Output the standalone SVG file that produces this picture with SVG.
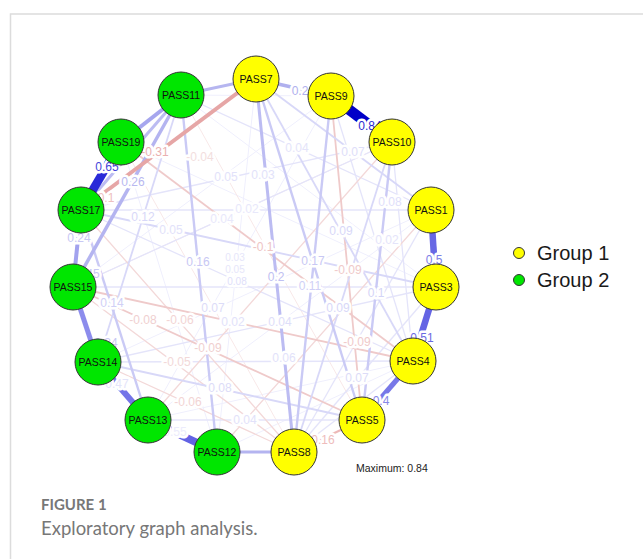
<svg xmlns="http://www.w3.org/2000/svg" width="643" height="559" viewBox="0 0 643 559">
<style>
.e{fill:none;stroke-linecap:butt}
.b0{stroke:#efeffd;stroke-width:1}
.b1{stroke:#e4e4fa;stroke-width:1.3}
.b2{stroke:#d8d8f8;stroke-width:1.8}
.b3{stroke:#cacaf5;stroke-width:2.4}
.b4{stroke:#bcbcf2;stroke-width:3}
.r0{stroke:#f8e8e8;stroke-width:1}
.r1{stroke:#f3d8d8;stroke-width:1.3}
.r2{stroke:#efcaca;stroke-width:1.8}
.lb{font-family:"Liberation Sans",Arial,sans-serif;font-size:12px;text-anchor:middle;paint-order:stroke;stroke:#fff;stroke-width:5px;stroke-linejoin:round}
.sm{font-size:10px}
.nd circle{stroke:#333;stroke-width:1}
.y{fill:#ffff00}
.g{fill:#00e600}
.nt{font-family:"Liberation Sans",Arial,sans-serif;font-size:10.5px;fill:#111;text-anchor:middle}
</style>
<rect width="643" height="559" fill="#fff"/>
<path d="M10.5 559V14H643" fill="none" stroke="#dcdcdc" stroke-width="1.5"/>
<g id="connectors">
<line class="e b0" x1="121" y1="142" x2="436" y2="287"/>
<line class="e b0" x1="121" y1="142" x2="217" y2="452"/>
<line class="e b0" x1="73" y1="287" x2="331" y2="96"/>
<line class="e b0" x1="148" y1="420" x2="431" y2="210"/>
<line class="e b0" x1="217" y1="452" x2="431" y2="210"/>
<line class="e b0" x1="217" y1="452" x2="413" y2="361"/>
<line class="e b0" x1="148" y1="420" x2="413" y2="361"/>
<line class="e b0" x1="181" y1="95" x2="331" y2="96"/>
<line class="e b0" x1="98" y1="362" x2="431" y2="210"/>
<line class="e b0" x1="331" y1="96" x2="148" y2="420"/>
<line class="e b0" x1="256" y1="79" x2="217" y2="452"/>
<line class="e b0" x1="181" y1="95" x2="436" y2="287"/>
<line class="e r0" x1="121" y1="142" x2="294" y2="452"/>
<line class="e r0" x1="181" y1="95" x2="362" y2="420"/>
<line class="e r0" x1="73" y1="287" x2="392" y2="142"/>
<line class="e b1" x1="81" y1="210" x2="431" y2="210"/>
<line class="e b1" x1="81" y1="210" x2="392" y2="142"/>
<line class="e b1" x1="181" y1="95" x2="431" y2="210"/>
<line class="e b1" x1="73" y1="287" x2="392" y2="142"/>
<line class="e b1" x1="392" y1="142" x2="413" y2="361"/>
<line class="e b1" x1="331" y1="96" x2="413" y2="361"/>
<line class="e b1" x1="98" y1="362" x2="436" y2="287"/>
<line class="e b1" x1="148" y1="420" x2="362" y2="420"/>
<line class="e b1" x1="73" y1="287" x2="436" y2="287"/>
<line class="e b1" x1="81" y1="210" x2="413" y2="361"/>
<line class="e b1" x1="431" y1="210" x2="294" y2="452"/>
<line class="e b1" x1="436" y1="287" x2="294" y2="452"/>
<line class="e b1" x1="413" y1="361" x2="294" y2="452"/>
<line class="e b1" x1="98" y1="362" x2="413" y2="361"/>
<line class="e r1" x1="81" y1="210" x2="294" y2="452"/>
<line class="e r1" x1="98" y1="362" x2="294" y2="452"/>
<line class="e r1" x1="73" y1="287" x2="294" y2="452"/>
<line class="e r1" x1="392" y1="142" x2="148" y2="420"/>
<line class="e r1" x1="431" y1="210" x2="217" y2="452"/>
<line class="e r2" x1="121" y1="142" x2="413" y2="361"/>
<line class="e r2" x1="331" y1="96" x2="362" y2="420"/>
<line class="e r2" x1="73" y1="287" x2="413" y2="361"/>
<line class="e r2" x1="73" y1="287" x2="362" y2="420"/>
<line class="e b2" x1="256" y1="79" x2="413" y2="361"/>
<line class="e b2" x1="392" y1="142" x2="294" y2="452"/>
<line class="e b2" x1="256" y1="79" x2="431" y2="210"/>
<line class="e b2" x1="98" y1="362" x2="362" y2="420"/>
<line class="e b2" x1="81" y1="210" x2="436" y2="287"/>
<line class="e b2" x1="181" y1="95" x2="98" y2="362"/>
<line class="e b3" x1="331" y1="96" x2="294" y2="452"/>
<line class="e b3" x1="392" y1="142" x2="362" y2="420"/>
<line class="e b3" x1="81" y1="210" x2="148" y2="420"/>
<line class="e b3" x1="256" y1="79" x2="362" y2="420"/>
<line class="e b3" x1="181" y1="95" x2="217" y2="452"/>
<line class="e b4" x1="256" y1="79" x2="294" y2="452"/>
<line class="e b4" x1="81" y1="210" x2="181" y2="95"/>
<line class="e" stroke="#b4b4f0" stroke-width="3.5" x1="73" y1="287" x2="181" y2="95"/>
<line class="e" stroke="#b4b4f0" stroke-width="3" x1="217" y1="452" x2="294" y2="452"/>
<line class="e" stroke="#b6b6f0" stroke-width="3" x1="181" y1="95" x2="256" y2="79"/>
<line class="e" stroke="#b0b0ee" stroke-width="3.5" x1="256" y1="79" x2="331" y2="96"/>
<line class="e" stroke="#ecb8b8" stroke-width="2" x1="294" y1="452" x2="362" y2="420"/>
<line class="e" stroke="#e6a6a6" stroke-width="4" x1="81" y1="210" x2="256" y2="79"/>
<line class="e" stroke="#a6a6ee" stroke-width="4" x1="121" y1="142" x2="181" y2="95"/>
<line class="e" stroke="#a2a2ee" stroke-width="4" x1="81" y1="210" x2="73" y2="287"/>
<line class="e" stroke="#8c8cec" stroke-width="5" x1="73" y1="287" x2="98" y2="362"/>
<line class="e" stroke="#7474e8" stroke-width="6" x1="98" y1="362" x2="148" y2="420"/>
<line class="e" stroke="#6262e4" stroke-width="7.5" x1="148" y1="420" x2="217" y2="452"/>
<line class="e" stroke="#7878e8" stroke-width="5" x1="413" y1="361" x2="362" y2="420"/>
<line class="e" stroke="#6464e4" stroke-width="6.5" x1="436" y1="287" x2="413" y2="361"/>
<line class="e" stroke="#6868e4" stroke-width="6.5" x1="431" y1="210" x2="436" y2="287"/>
<line class="e" stroke="#2a2ad8" stroke-width="8.5" x1="81" y1="210" x2="121" y2="142"/>
<line class="e" stroke="#0000c8" stroke-width="10.5" x1="331" y1="96" x2="392" y2="142"/>
</g>
<g id="edge-labels">
<text class="lb" x="370" y="130" fill="#2a2ad0">0.84</text>
<text class="lb" x="300" y="95" fill="#b0b0ee">0.2</text>
<text class="lb" x="155" y="156" fill="#eab0b0">-0.31</text>
<text class="lb" x="107" y="171" fill="#4646da">0.65</text>
<text class="lb" x="133" y="186" fill="#b8b8f0">0.26</text>
<text class="lb" x="200" y="161" fill="#f2dede">-0.04</text>
<text class="lb" x="297" y="152" fill="#e4e4fa">0.04</text>
<text class="lb" x="353" y="156" fill="#dedef9">0.07</text>
<text class="lb" x="226" y="181" fill="#e2e2fa">0.05</text>
<text class="lb" x="263" y="179" fill="#e2e2fa">0.03</text>
<text class="lb" x="247" y="213" fill="#e8e8fb">0.02</text>
<text class="lb" x="222" y="223" fill="#e8e8fb">0.04</text>
<text class="lb" x="390" y="206" fill="#e0e0fa">0.08</text>
<text class="lb" x="143" y="221" fill="#d8d8f8">0.12</text>
<text class="lb" x="171" y="234" fill="#e2e2fa">0.05</text>
<text class="lb" x="341" y="235" fill="#d8d8f8">0.09</text>
<text class="lb" x="79" y="242" fill="#c8c8f4">0.24</text>
<text class="lb" x="263" y="251" fill="#eec4c4">-0.1</text>
<text class="lb sm" x="235" y="261" fill="#e6e6fa">0.03</text>
<text class="lb sm" x="235" y="273" fill="#e6e6fa">0.05</text>
<text class="lb sm" x="237" y="285" fill="#e0e0fa">0.08</text>
<text class="lb" x="198" y="266" fill="#c8c8f4">0.16</text>
<text class="lb" x="276" y="281" fill="#c0c0f2">0.2</text>
<text class="lb" x="313" y="265" fill="#c8c8f4">0.17</text>
<text class="lb" x="348" y="274" fill="#f0caca">-0.09</text>
<text class="lb" x="310" y="290" fill="#d0d0f6">0.11</text>
<text class="lb" x="376" y="297" fill="#d4d4f7">0.1</text>
<text class="lb" x="387" y="244" fill="#e4e4fa">0.02</text>
<text class="lb" x="434" y="264" fill="#8080e6">0.5</text>
<text class="lb" x="112" y="307" fill="#d0d0f6">0.14</text>
<text class="lb" x="143" y="324" fill="#f0d0d0">-0.08</text>
<text class="lb" x="180" y="324" fill="#f2d4d4">-0.06</text>
<text class="lb" x="213" y="312" fill="#dcdcf8">0.07</text>
<text class="lb" x="233" y="326" fill="#e2e2fa">0.02</text>
<text class="lb" x="280" y="326" fill="#dedef9">0.04</text>
<text class="lb" x="338" y="312" fill="#d8d8f8">0.09</text>
<text class="lb" x="357" y="346" fill="#f0caca">-0.09</text>
<text class="lb" x="422" y="342" fill="#6a6ae2">0.51</text>
<text class="lb" x="208" y="352" fill="#f0d0d0">-0.09</text>
<text class="lb" x="177" y="366" fill="#f2d8d8">-0.05</text>
<text class="lb" x="284" y="362" fill="#e2e2fa">0.06</text>
<text class="lb" x="220" y="392" fill="#dcdcf8">0.08</text>
<text class="lb" x="357" y="382" fill="#dcdcf8">0.07</text>
<text class="lb" x="381" y="405" fill="#8888e8">0.4</text>
<text class="lb" x="188" y="406" fill="#f2d4d4">-0.06</text>
<text class="lb" x="245" y="424" fill="#e2e2fa">0.04</text>
<text class="lb" x="321" y="444" fill="#eebcbc">-0.16</text>
<text class="lb" x="175" y="436" fill="#ececfc" stroke="#7070e6">0.55</text>
<text class="lb" x="104" y="202" fill="#eec0c0">-0.1</text>
<text class="lb" x="88" y="278" fill="#c8c8f4">0.45</text>
<text class="lb" x="106" y="347" fill="#c8c8f4">0.34</text>
<text class="lb" x="117" y="388" fill="#e4e4fa" stroke="#8080ea">0.47</text>
</g>
<g id="PASS7" class="nd"><circle class="y" cx="256" cy="79" r="23"/><text class="nt" x="256" y="83">PASS7</text></g>
<g id="PASS9" class="nd"><circle class="y" cx="331" cy="96" r="23"/><text class="nt" x="331" y="100">PASS9</text></g>
<g id="PASS10" class="nd"><circle class="y" cx="392" cy="142" r="23"/><text class="nt" x="392" y="146">PASS10</text></g>
<g id="PASS1" class="nd"><circle class="y" cx="431" cy="210" r="23"/><text class="nt" x="431" y="214">PASS1</text></g>
<g id="PASS3" class="nd"><circle class="y" cx="436" cy="287" r="23"/><text class="nt" x="436" y="291">PASS3</text></g>
<g id="PASS4" class="nd"><circle class="y" cx="413" cy="361" r="23"/><text class="nt" x="413" y="365">PASS4</text></g>
<g id="PASS5" class="nd"><circle class="y" cx="362" cy="420" r="23"/><text class="nt" x="362" y="424">PASS5</text></g>
<g id="PASS8" class="nd"><circle class="y" cx="294" cy="452" r="23"/><text class="nt" x="294" y="456">PASS8</text></g>
<g id="PASS12" class="nd"><circle class="g" cx="217" cy="452" r="23"/><text class="nt" x="217" y="456">PASS12</text></g>
<g id="PASS13" class="nd"><circle class="g" cx="148" cy="420" r="23"/><text class="nt" x="148" y="424">PASS13</text></g>
<g id="PASS14" class="nd"><circle class="g" cx="98" cy="362" r="23"/><text class="nt" x="98" y="366">PASS14</text></g>
<g id="PASS15" class="nd"><circle class="g" cx="73" cy="287" r="23"/><text class="nt" x="73" y="291">PASS15</text></g>
<g id="PASS17" class="nd"><circle class="g" cx="81" cy="210" r="23"/><text class="nt" x="81" y="214">PASS17</text></g>
<g id="PASS19" class="nd"><circle class="g" cx="121" cy="142" r="23"/><text class="nt" x="121" y="146">PASS19</text></g>
<g id="PASS11" class="nd"><circle class="g" cx="181" cy="95" r="23"/><text class="nt" x="181" y="99">PASS11</text></g>
<g id="legend" font-family="Liberation Sans, Arial, sans-serif" font-size="20" fill="#1a1a1a">
<circle cx="519" cy="253" r="5.5" fill="#ffff00" stroke="#333" stroke-width="1"/>
<text x="537" y="260">Group 1</text>
<circle cx="519" cy="280" r="5.5" fill="#00e600" stroke="#333" stroke-width="1"/>
<text x="537" y="287">Group 2</text>
</g>
<text x="356" y="472" font-family="Liberation Sans, Arial, sans-serif" font-size="10.5" fill="#222">Maximum: 0.84</text>
<text x="41" y="510" font-family="Lato, 'Open Sans', sans-serif" font-size="15" font-weight="bold" fill="#777">FIGURE 1</text>
<text x="41" y="535" font-family="Lato, 'Open Sans', sans-serif" font-size="18.5" fill="#777">Exploratory graph analysis.</text>
</svg>
